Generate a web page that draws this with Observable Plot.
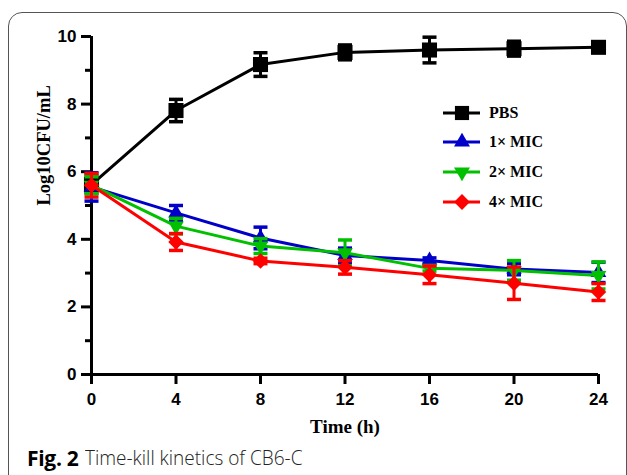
<!DOCTYPE html>
<html>
<head>
<meta charset="utf-8">
<script src="https://cdn.jsdelivr.net/npm/d3@7"></script>
<script src="https://cdn.jsdelivr.net/npm/@observablehq/plot@0.6"></script>
<style>
  html, body { margin: 0; padding: 0; background: #fff; }
  #wrap { position: relative; width: 627px; height: 475px; overflow: hidden; }
  #frame { position: absolute; left: 8px; top: 12px; width: 619px; height: 500px;
           border: 1.3px solid #555; border-radius: 14px; box-sizing: border-box; }
  #chart { position: absolute; left: 0; top: 0; }
  #legend { position: absolute; left: 441px; top: 98px; font-family: "Liberation Serif", serif;
            font-weight: bold; font-size: 16px; color: #000; }
  .row { display: flex; align-items: center; height: 29.6px; }
  .row span { margin-left: 8px; }
  #caption { position: absolute; left: 27px; top: 448px; white-space: nowrap; line-height: 20px; }
  #caption b { font-family: "Open Sans", sans-serif; font-weight: 700; font-size: 21px; color: #000;
               letter-spacing: -0.3px; margin-right: 7px; vertical-align: top; }
  #caption .t { display: inline-block; font-family: "Open Sans", sans-serif; font-weight: 300; font-size: 20px;
                color: #222; transform: scaleX(0.95); transform-origin: left center; vertical-align: top; }
</style>
</head>
<body>
<div id="wrap">
  <div id="frame"></div>
  <div id="chart"></div>
  <div id="legend"></div>
  <div id="caption"><b>Fig. 2</b><span class="t">Time-kill kinetics of CB6-C</span></div>
</div>
<script>
const times = [0, 4, 8, 12, 16, 20, 24];
const seriesNames = ["PBS", "1× MIC", "2× MIC", "4× MIC"];
const seriesColors = ["#000000", "#0000c8", "#00c000", "#ff0000"];
const pbs     = [5.62, 7.81, 9.17, 9.53, 9.60, 9.64, 9.68];
const pbsErr  = [0.25, 0.33, 0.35, 0.22, 0.38, 0.22, 0.08];
const mic1    = [5.55, 4.78, 4.04, 3.52, 3.37, 3.12, 3.02];
const mic1Err = [0.42, 0.22, 0.32, 0.22, 0.08, 0.17, 0.30];
const mic2    = [5.60, 4.39, 3.80, 3.60, 3.14, 3.08, 2.93];
const mic2Err = [0.25, 0.23, 0.22, 0.38, 0.08, 0.29, 0.40];
const mic4    = [5.60, 3.92, 3.36, 3.17, 2.95, 2.70, 2.44];
const mic4Err = [0.35, 0.25, 0.08, 0.20, 0.26, 0.48, 0.25];
const xTicks = [0, 4, 8, 12, 16, 20, 24];
const yTicks = [0, 2, 4, 6, 8, 10];
const yMinor = [1, 3, 5, 7, 9];

const values = [pbs, mic1, mic2, mic4];
const errs = [pbsErr, mic1Err, mic2Err, mic4Err];
const symbols = ["square", "triangle", "triangle", "square"];
const rotates = [0, 0, 180, 45];
const sizes = [8.5, 5.8, 5.8, 6.2];

const capSymbol = {
  draw(context, size) {
    const w = Math.sqrt(size);
    context.moveTo(-w / 2, 0);
    context.lineTo(w / 2, 0);
  }
};

const marks = [];
marks.push(Plot.ruleX([0], {y1: 0, y2: 10, strokeWidth: 3, stroke: "#000"}));
marks.push(Plot.ruleY([0], {x1: 0, x2: 24, strokeWidth: 3, stroke: "#000"}));
marks.push(Plot.axisY(yTicks, {tickSize: 10, tickPadding: 5, strokeWidth: 3, fontSize: 17, fontWeight: "bold",
  fontFamily: "Liberation Sans, Arial, sans-serif", fill: "#000", label: null}));
marks.push(Plot.axisY(yMinor, {tickSize: 6, strokeWidth: 3, text: null, label: null}));
marks.push(Plot.axisX(xTicks, {tickSize: 10, tickPadding: 8, strokeWidth: 3, fontSize: 17, fontWeight: "bold",
  fontFamily: "Liberation Sans, Arial, sans-serif", fill: "#000", label: null}));

values.forEach((vals, si) => {
  const data = times.map((t, i) => ({t, v: vals[i], lo: vals[i] - errs[si][i], hi: vals[i] + errs[si][i]}));
  const c = seriesColors[si];
  marks.push(Plot.line(data, {x: "t", y: "v", stroke: c, strokeWidth: 3}));
  marks.push(Plot.ruleX(data, {x: "t", y1: "lo", y2: "hi", stroke: c, strokeWidth: 3}));
  marks.push(Plot.dot(data, {x: "t", y: "lo", symbol: capSymbol, r: 7.9, stroke: c, strokeWidth: 3.5, fill: "none"}));
  marks.push(Plot.dot(data, {x: "t", y: "hi", symbol: capSymbol, r: 7.9, stroke: c, strokeWidth: 3.5, fill: "none"}));
  marks.push(Plot.dot(data, {x: "t", y: "v", symbol: symbols[si], rotate: rotates[si], r: sizes[si], fill: c, stroke: "none"}));
});

marks.push(Plot.text(["Log10CFU/mL"], {frameAnchor: "left", dx: -47, rotate: -90, fontSize: 18.5,
  fontWeight: "bold", fontFamily: "Liberation Serif, Times New Roman, serif", fill: "#000"}));
marks.push(Plot.text(["Time (h)"], {frameAnchor: "bottom", dy: 58, fontSize: 19,
  fontWeight: "bold", fontFamily: "Liberation Serif, Times New Roman, serif", fill: "#000"}));

const chart = Plot.plot({
  width: 627,
  height: 445,
  marginLeft: 91,
  marginRight: 29,
  marginTop: 36,
  marginBottom: 71,
  x: {domain: [0, 24]},
  y: {domain: [0, 10]},
  style: {background: "transparent", overflow: "visible"},
  marks
});
document.getElementById("chart").appendChild(chart);

// legend
const legendSymbols = [d3.symbolSquare, d3.symbolTriangle, d3.symbolTriangle, d3.symbolSquare];
const legendAreas = [200, 110, 110, 125];
const legend = d3.select("#legend");
seriesNames.forEach((name, si) => {
  const row = legend.append("div").attr("class", "row");
  const svg = row.append("svg").attr("width", 40).attr("height", 26);
  svg.append("line").attr("x1", 2).attr("x2", 39).attr("y1", 13).attr("y2", 13)
    .attr("stroke", seriesColors[si]).attr("stroke-width", 3);
  svg.append("path")
    .attr("d", d3.symbol(legendSymbols[si], legendAreas[si])())
    .attr("transform", `translate(21,13) rotate(${rotates[si]})`)
    .attr("fill", seriesColors[si]);
  row.append("span").text(name);
});
</script>
</body>
</html>
